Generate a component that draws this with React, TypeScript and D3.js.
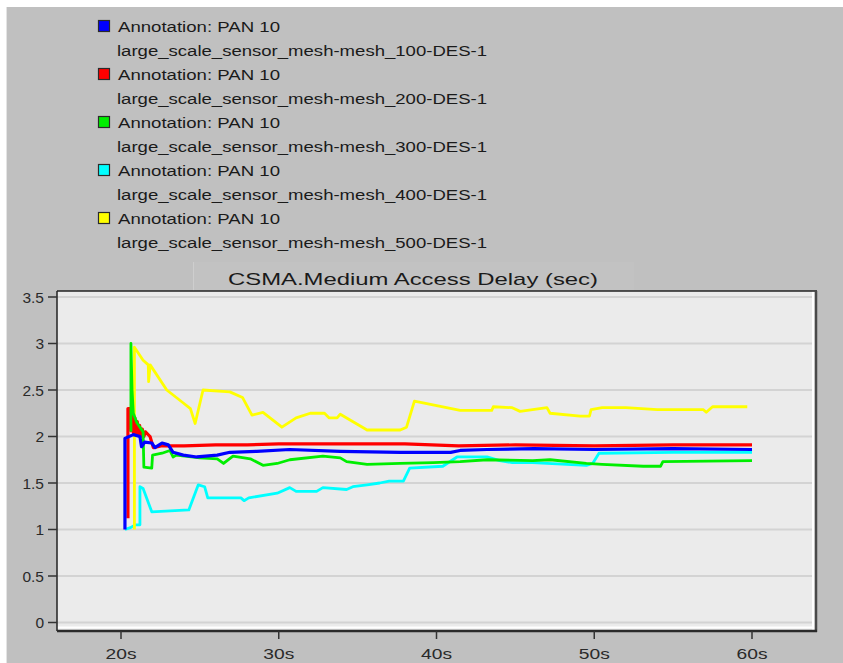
import React from 'react';
import * as d3 from 'd3';

// legend / series
const legendTitle = 'Annotation: PAN 10';
const seriesNames = [
  'large_scale_sensor_mesh-mesh_100-DES-1',
  'large_scale_sensor_mesh-mesh_200-DES-1',
  'large_scale_sensor_mesh-mesh_300-DES-1',
  'large_scale_sensor_mesh-mesh_400-DES-1',
  'large_scale_sensor_mesh-mesh_500-DES-1',
];
const seriesColors = ['#0000ff', '#ff0000', '#00ee00', '#00ffff', '#ffff00'];

// [time (s), delay (sec)]
const mesh100 = [
  [20.25, 1.0], [20.25, 1.98], [20.78, 2.02], [21.2, 2.0], [21.3, 1.89], [21.5, 1.94],
  [21.95, 1.93], [22.15, 1.88], [22.6, 1.93], [23.0, 1.91], [23.3, 1.83], [23.95, 1.8],
  [24.8, 1.78], [26.1, 1.8], [26.9, 1.83], [28.6, 1.84], [30.7, 1.86], [33.9, 1.84],
  [37.7, 1.83], [40.9, 1.83], [41.5, 1.85], [43.2, 1.86], [46.2, 1.87], [50, 1.86],
  [55, 1.87], [60, 1.86],
];
const mesh200 = [
  [20.44, 1.12], [20.44, 2.3], [20.6, 2.3], [20.65, 2.06], [20.72, 2.26], [20.8, 2.03],
  [20.88, 2.2], [20.95, 2.02], [21.03, 2.16], [21.1, 2.01], [21.18, 2.12], [21.25, 2.0],
  [21.35, 2.08], [21.45, 2.0], [21.55, 2.05], [21.84, 2.0],
  [22.05, 1.88], [22.6, 1.9], [24.0, 1.9], [26, 1.91], [28, 1.91], [30, 1.92], [32, 1.92],
  [35, 1.92], [38, 1.92], [41.4, 1.9], [45, 1.91], [50, 1.9], [55, 1.91], [60, 1.91],
];
const mesh300 = [
  [20.63, 2.05], [20.63, 3.0], [20.7, 2.5], [20.78, 2.25], [21.0, 2.15], [21.2, 2.1],
  [21.4, 2.05], [21.45, 1.67], [21.95, 1.66], [22.0, 1.8], [22.6, 1.82], [23.1, 1.85],
  [23.3, 1.78], [23.5, 1.8], [25.0, 1.77], [26.1, 1.76], [26.5, 1.71], [27.1, 1.79],
  [28.2, 1.76], [29.0, 1.69], [29.9, 1.71], [30.7, 1.75], [32.8, 1.79], [33.9, 1.77],
  [34.3, 1.73], [35.6, 1.7], [37.7, 1.71], [39.8, 1.72], [41.5, 1.73], [43.2, 1.75],
  [46.1, 1.74], [47.2, 1.75], [49.5, 1.71], [50.5, 1.7], [53.1, 1.68], [54.2, 1.68],
  [54.35, 1.73], [60, 1.74],
];
const mesh400 = [
  [20.25, 1.0], [20.6, 1.02], [20.9, 1.05], [21.2, 1.05], [21.2, 1.46], [21.4, 1.44],
  [21.95, 1.19], [24.3, 1.21], [24.9, 1.48], [25.3, 1.46], [25.5, 1.34], [27.6, 1.34],
  [27.8, 1.31], [28.1, 1.34], [29.9, 1.39], [30.7, 1.45], [31.1, 1.41], [32.4, 1.41],
  [32.8, 1.45], [34.3, 1.43], [34.7, 1.46], [35.6, 1.48], [36.4, 1.5], [37.0, 1.52],
  [37.9, 1.52], [38.3, 1.66], [40.4, 1.68], [41.3, 1.78], [43.2, 1.78], [44.0, 1.74],
  [44.8, 1.72], [46.1, 1.72], [49.5, 1.69], [49.9, 1.71], [50.3, 1.82], [55, 1.83],
  [60, 1.83],
];
const mesh500 = [
  [20.85, 1.0], [20.85, 2.96], [21.4, 2.82], [21.73, 2.77], [21.75, 2.59], [21.85, 2.77],
  [22.9, 2.5], [23.95, 2.36], [24.4, 2.3], [24.7, 2.14], [25.2, 2.5], [26.9, 2.48],
  [27.7, 2.42], [28.3, 2.23], [29.0, 2.26], [30.2, 2.1], [31.1, 2.2], [32.0, 2.25],
  [32.9, 2.25], [33.2, 2.2], [33.7, 2.2], [33.9, 2.24], [35.6, 2.07], [37.7, 2.07],
  [38.1, 2.1], [38.6, 2.38], [41.5, 2.28], [43.5, 2.28], [43.6, 2.32], [44.8, 2.31],
  [45.3, 2.27], [47.0, 2.31], [47.2, 2.25], [49.1, 2.22], [49.7, 2.22], [49.8, 2.29],
  [50.5, 2.31], [52, 2.31], [54, 2.29], [56.9, 2.29], [57.1, 2.26], [57.5, 2.32],
  [59.7, 2.32],
];
const seriesData = [mesh100, mesh200, mesh300, mesh400, mesh500];
const drawOrder = [3, 4, 1, 2, 0];

const yTicks = [0, 0.5, 1, 1.5, 2, 2.5, 3, 3.5];
const yTickLabels = ['0', '0.5', '1', '1.5', '2', '2.5', '3', '3.5'];
const xTicks = [20, 30, 40, 50, 60];
const xTickLabels = ['20s', '30s', '40s', '50s', '60s'];
const chartTitle = 'CSMA.Medium Access Delay (sec)';

const font = '"Liberation Sans", Arial, sans-serif';

export default function App() {
  const plot = { left: 57, top: 291, right: 817, bottom: 631 };
  const x = d3.scaleLinear().domain([20, 60]).range([121, 752]);
  const y = d3.scaleLinear().domain([0, 3.5]).range([622.5, 297]);
  const line = d3.line<number[]>().x(d => x(d[0])).y(d => y(d[1]));

  return (
    <svg width={843} height={663} style={{ position: 'fixed', left: 0, top: 0 }}
      fontFamily={font}>
      <rect width={843} height={663} fill="#ffffff" />
      <rect x={6} y={7} width={837} height={656} fill="#c0c0c0" />
      <line x1={6.5} y1={7} x2={6.5} y2={663} stroke="#e4e4e4" />

      {/* legend */}
      {seriesNames.map((name, i) => {
        const cy = 26 + i * 48;
        return (
          <g key={name}>
            <rect x={98.5} y={cy - 5.5} width={11} height={11} fill={seriesColors[i]}
              stroke="#2a2a2a" strokeWidth={1.2} />
            <text x={118} y={cy + 5.5} fontSize={15.5} fill="#1a1a1a"
              textLength={162} lengthAdjust="spacingAndGlyphs">{legendTitle}</text>
            <text x={117} y={cy + 29.5} fontSize={15.5} fill="#1a1a1a"
              textLength={370} lengthAdjust="spacingAndGlyphs">{name}</text>
          </g>
        );
      })}

      {/* title tab */}
      <rect x={194} y={262} width={440} height={29} fill="#c2c2c2" />
      <line x1={193.5} y1={262} x2={193.5} y2={291} stroke="#cecece" />
      <text x={228} y={284.5} fontSize={17} fill="#1a1a1a"
        textLength={370} lengthAdjust="spacingAndGlyphs">{chartTitle}</text>

      {/* plot area */}
      <rect x={plot.left} y={plot.top} width={plot.right - plot.left}
        height={plot.bottom - plot.top} fill="#ebebeb" />
      {yTicks.map(t => (
        <line key={t} x1={plot.left} x2={plot.right - 3} y1={y(t)} y2={y(t)}
          stroke="#d3d3d3" strokeWidth={2} />
      ))}
      <line x1={plot.left} x2={plot.right - 3} y1={plot.bottom - 3.5} y2={plot.bottom - 3.5}
        stroke="#ffffff" strokeWidth={2} />
      <line x1={plot.right - 4} x2={plot.right - 4} y1={plot.top} y2={plot.bottom}
        stroke="#ffffff" strokeWidth={2} />

      {/* series */}
      <g>
        {drawOrder.map(i => (
          <path key={i} d={line(seriesData[i] as number[][]) || ''} fill="none"
            stroke={seriesColors[i]} strokeWidth={i < 2 ? 3.2 : 2.8}
            strokeLinejoin="round" />
        ))}
      </g>

      {/* frame */}
      <line x1={plot.left} x2={plot.right} y1={plot.top} y2={plot.top} stroke="#222" strokeWidth={1.5} />
      <line x1={plot.left} x2={plot.left} y1={plot.top} y2={plot.bottom} stroke="#222" strokeWidth={1.5} />
      <line x1={plot.right - 1} x2={plot.right - 1} y1={plot.top} y2={plot.bottom + 1}
        stroke="#4a4a4a" strokeWidth={2.5} />
      <line x1={plot.left} x2={plot.right} y1={plot.bottom} y2={plot.bottom}
        stroke="#2a2a2a" strokeWidth={2.5} />

      {/* y axis */}
      {yTicks.map((t, i) => (
        <g key={t}>
          <line x1={48} x2={plot.left} y1={y(t)} y2={y(t)} stroke="#333" strokeWidth={1.5} />
          <text x={44} y={y(t) + 5.5} fontSize={15.5} fill="#2a2a2a" textAnchor="end">
            {yTickLabels[i]}
          </text>
        </g>
      ))}

      {/* x axis */}
      {xTicks.map((t, i) => (
        <g key={t}>
          <line x1={x(t)} x2={x(t)} y1={plot.bottom} y2={plot.bottom + 8} stroke="#333" strokeWidth={1.5} />
          <text x={x(t)} y={659} fontSize={15.5} fill="#2a2a2a" textAnchor="middle"
            textLength={31} lengthAdjust="spacingAndGlyphs">
            {xTickLabels[i]}
          </text>
        </g>
      ))}
    </svg>
  );
}
